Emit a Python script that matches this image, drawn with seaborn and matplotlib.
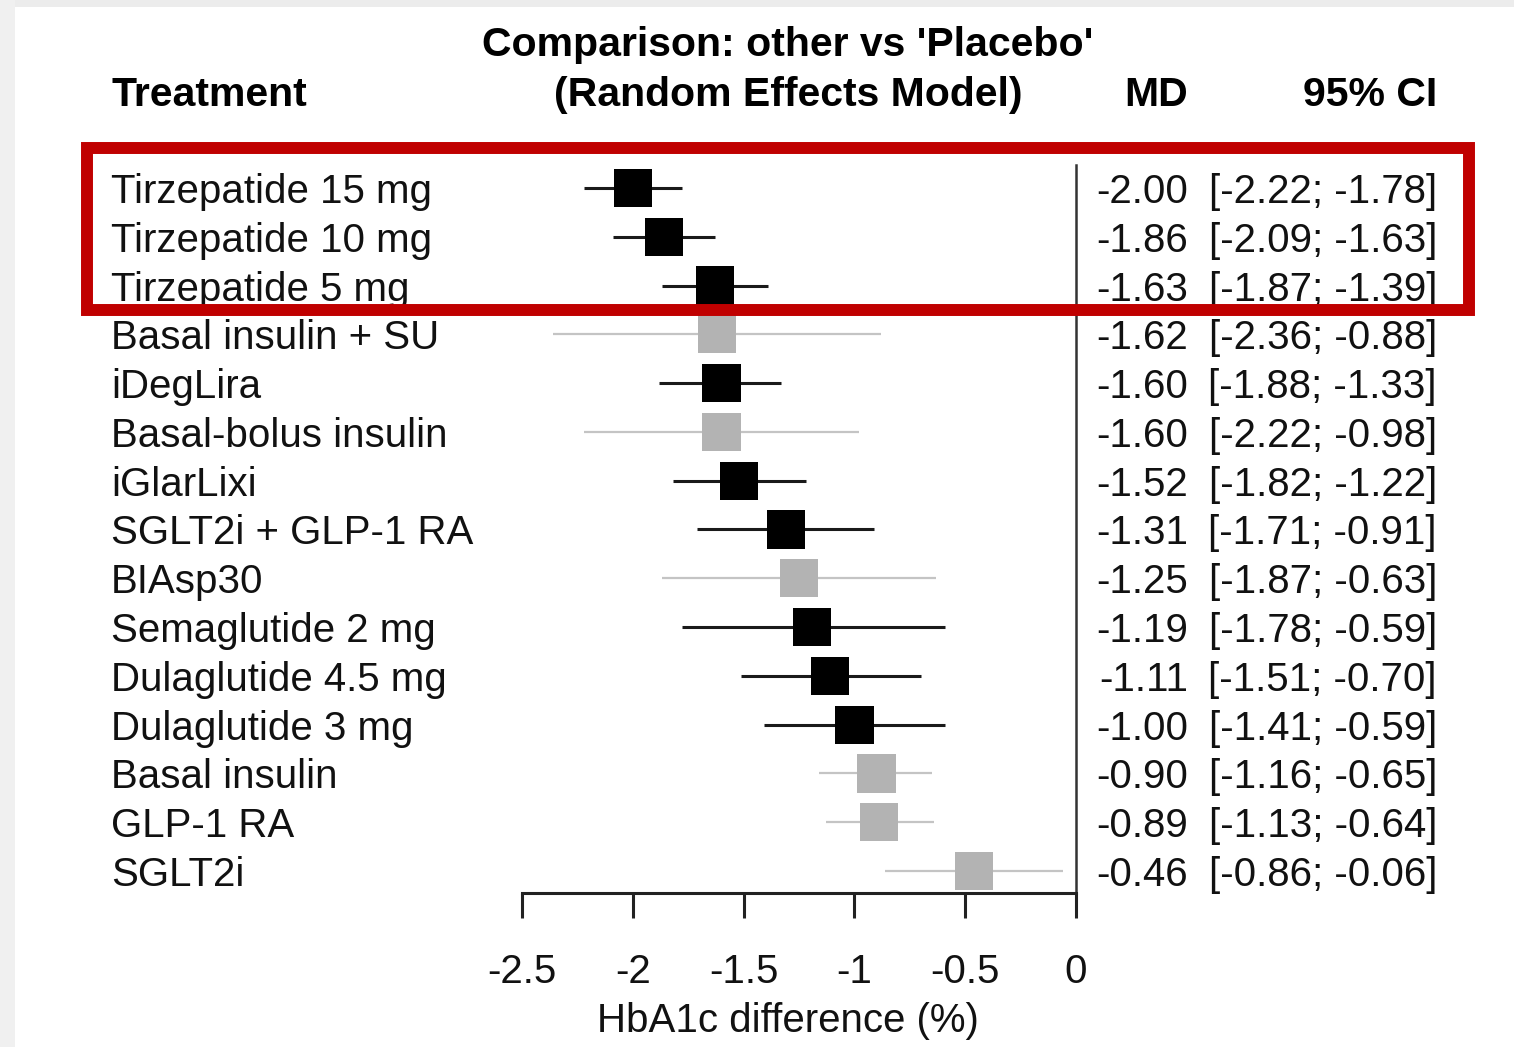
import matplotlib
matplotlib.use("Agg")
import matplotlib.pyplot as plt
import matplotlib.transforms as mtransforms
from matplotlib.patches import Rectangle
import seaborn as sns
import pandas as pd

# forest plot: HbA1c difference vs placebo (random effects NMA)
treatments = ["Tirzepatide 15 mg", "Tirzepatide 10 mg", "Tirzepatide 5 mg",
              "Basal insulin + SU", "iDegLira", "Basal-bolus insulin", "iGlarLixi",
              "SGLT2i + GLP-1 RA", "BIAsp30", "Semaglutide 2 mg", "Dulaglutide 4.5 mg",
              "Dulaglutide 3 mg", "Basal insulin", "GLP-1 RA", "SGLT2i"]
md = [-2.00, -1.86, -1.63, -1.62, -1.60, -1.60, -1.52, -1.31, -1.25, -1.19, -1.11,
      -1.00, -0.90, -0.89, -0.46]
ci_low = [-2.22, -2.09, -1.87, -2.36, -1.88, -2.22, -1.82, -1.71, -1.87, -1.78, -1.51,
          -1.41, -1.16, -1.13, -0.86]
ci_high = [-1.78, -1.63, -1.39, -0.88, -1.33, -0.98, -1.22, -0.91, -0.63, -0.59, -0.70,
           -0.59, -0.65, -0.64, -0.06]
# black = direct evidence style, grey = the lighter entries
group = ["dark", "dark", "dark", "light", "dark", "light", "dark", "dark", "light",
         "dark", "dark", "dark", "light", "light", "light"]
xticks = [-2.5, -2, -1.5, -1, -0.5, 0]
xtick_labels = ["-2.5", "-2", "-1.5", "-1", "-0.5", "0"]

df = pd.DataFrame({"treatment": treatments, "md": md, "lo": ci_low, "hi": ci_high,
                   "group": group})
df["row"] = range(len(df))

sns.set_style("white")
plt.rcParams["font.family"] = ["Liberation Sans", "DejaVu Sans"]

W, H = 1514, 1047
fig = plt.figure(figsize=(W / 100, H / 100), dpi=100)
fig.patch.set_facecolor("white")

# light grey screenshot frame on top / left
fig.patches.append(Rectangle((0, 1 - 7 / H), 1, 7 / H, transform=fig.transFigure,
                             color="#ececec", lw=0, zorder=0))
fig.patches.append(Rectangle((0, 0), 15 / W, 1, transform=fig.transFigure,
                             color="#f0f0f0", lw=0, zorder=0))

ax_left, ax_right, ax_top, ax_bot = 522, 1076, 165, 893
ax = fig.add_axes([ax_left / W, 1 - ax_bot / H, (ax_right - ax_left) / W,
                   (ax_bot - ax_top) / H])
ax.set_facecolor("none")

txt_col = "#111111"
line_col = {"dark": "#1a1a1a", "light": "#c4c4c4"}
box_col = {"dark": "#000000", "light": "#b3b3b3"}

for g, sub in df.groupby("group"):
    ax.hlines(sub["row"], sub["lo"], sub["hi"], color=line_col[g],
              lw=2.2 if g == "dark" else 1.6, zorder=2)
sns.scatterplot(data=df, x="md", y="row", hue="group", palette=box_col, marker="s",
                s=760, linewidth=0, legend=False, ax=ax, zorder=3)

ax.set_xlim(-2.5, 0)
row_px = 48.8
ax.set_ylim(len(df) - 1 + 22 / row_px, -23 / row_px)
ax.set_xticks(xticks)
ax.set_xticklabels(xtick_labels, fontsize=29, color=txt_col)
ax.set_yticks([])
ax.set_xlabel("")
ax.set_ylabel("")
for s in ["top", "left"]:
    ax.spines[s].set_visible(False)
ax.spines["bottom"].set_linewidth(2.2)
ax.spines["bottom"].set_color("#222222")
ax.spines["right"].set_linewidth(1.8)
ax.spines["right"].set_color("#333333")
ax.tick_params(axis="x", direction="out", length=18, width=2.2, color="#222222",
               pad=25, bottom=True)

# text columns, x in figure coords, y in data rows
trans = mtransforms.blended_transform_factory(fig.transFigure, ax.transData)
off = 15 / row_px
for i, r in df.iterrows():
    y = r["row"] + off
    ax.text(111 / W, y, r["treatment"], transform=trans, fontsize=29,
            color=txt_col, va="baseline", ha="left")
    ax.text(1188 / W, y, f"{r['md']:.2f}", transform=trans, fontsize=29,
            color=txt_col, va="baseline", ha="right")
    ax.text(1437 / W, y, f"[{r['lo']:.2f}; {r['hi']:.2f}]", transform=trans,
            fontsize=29, color=txt_col, va="baseline", ha="right")

# headers
hdr = dict(fontsize=29.5, fontweight="bold", color="black", va="baseline")
fig.text(111 / W, 1 - 106 / H, "Treatment", ha="left", **hdr)
fig.text(788 / W, 1 - 56 / H, "Comparison: other vs 'Placebo'", ha="center", **hdr)
fig.text(788 / W, 1 - 106 / H, "(Random Effects Model)", ha="center", **hdr)
fig.text(1156 / W, 1 - 106 / H, "MD", ha="center", **hdr)
fig.text(1437 / W, 1 - 106 / H, "95% CI", ha="right", **hdr)

fig.text(788 / W, 1 - 1032 / H, "HbA1c difference (%)", fontsize=29,
         color=txt_col, va="baseline", ha="center")

# red highlight box around the tirzepatide rows
fig.patches.append(Rectangle((87 / W, 1 - 310 / H), (1469 - 87) / W, (310 - 148) / H,
                             transform=fig.transFigure, fill=False,
                             edgecolor="#c00000", lw=8.6, zorder=5))

fig.savefig("out.png", dpi=100)
